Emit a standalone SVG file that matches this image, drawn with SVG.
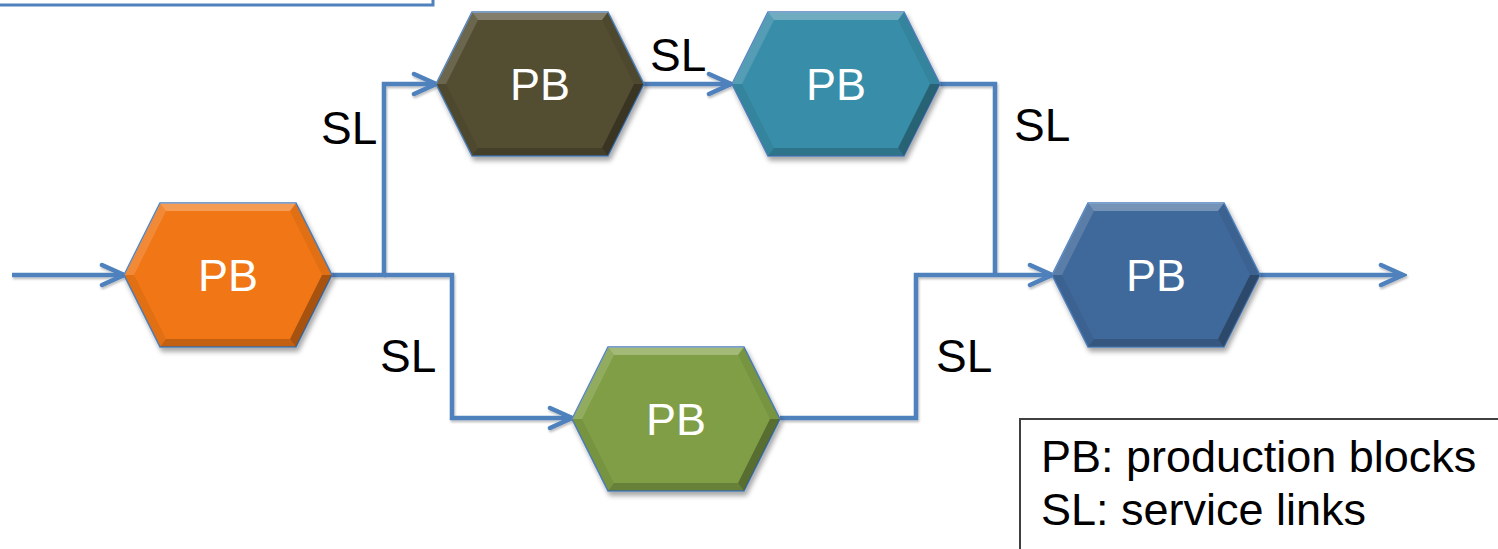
<svg xmlns="http://www.w3.org/2000/svg" xmlns:xlink="http://www.w3.org/1999/xlink" width="1498" height="549" viewBox="0 0 1498 549">
  <style>
    .conn { fill: none; stroke: #4F81BD; stroke-width: 4.5; stroke-linejoin: miter; }
    .lbl { font-family: "Liberation Sans", Arial, sans-serif; font-size: 46px; fill: #000000; }
    .pb { font-family: "Liberation Sans", Arial, sans-serif; font-size: 45px; fill: #FFFFFF; text-anchor: middle; }
    .leg { font-family: "Liberation Sans", Arial, sans-serif; font-size: 45px; fill: #000000; }
    .hl1 { fill: #FFFFFF; fill-opacity: 0.28; }
    .hl2 { fill: #FFFFFF; fill-opacity: 0.14; }
    .sh1 { fill: #000000; fill-opacity: 0.30; }
    .sh2 { fill: #000000; fill-opacity: 0.18; }
    .sh3 { fill: #000000; fill-opacity: 0.06; }
  </style>
  <defs>
    <filter id="shadow" x="-20%" y="-20%" width="140%" height="150%">
      <feDropShadow dx="2" dy="4" stdDeviation="2.5" flood-color="#000000" flood-opacity="0.35"/>
    </filter>
    <filter id="lshadow" x="-5%" y="-5%" width="110%" height="110%">
      <feDropShadow dx="1" dy="2" stdDeviation="1.2" flood-color="#000000" flood-opacity="0.25"/>
    </filter>
    <marker id="arr" viewBox="-26 -14 30 28" markerWidth="30" markerHeight="28" refX="0" refY="0" orient="auto" markerUnits="userSpaceOnUse">
      <path d="M-22,-10 L0,0 L-22,10" fill="none" stroke="#4F81BD" stroke-width="4.5" stroke-linecap="round" stroke-linejoin="miter"/>
    </marker>
    <g id="bevel">
      <polygon class="hl1" points="-68,-72 68,-72 62,-64 -62,-64"/>
      <polygon class="hl2" points="-104,0 -68,-72 -62,-64 -94,0"/>
      <polygon class="sh3" points="68,-72 104,0 94,0 62,-64"/>
      <polygon class="sh1" points="104,0 68,72 62,64 94,0"/>
      <polygon class="sh2" points="68,72 -68,72 -62,64 62,64"/>
      <polygon class="sh3" points="-68,72 -104,0 -94,0 -62,64"/>
    </g>
  </defs>

  <rect width="1498" height="549" fill="#FFFFFF"/>

  <g id="topbox">
    <rect x="-10" y="-10" width="443" height="15" fill="none" stroke="#4F81BD" stroke-width="3"/>
  </g>

  <g id="connectors" filter="url(#lshadow)">
    <path class="conn" d="M12,275 H124" marker-end="url(#arr)"/>
    <path class="conn" d="M332,275 H384 V84 H436" marker-end="url(#arr)"/>
    <path class="conn" d="M384,275 H452 V418 H572" marker-end="url(#arr)"/>
    <path class="conn" d="M643,84 H731" marker-end="url(#arr)"/>
    <path class="conn" d="M940,84 H995 V275"/>
    <path class="conn" d="M780,418 H916 V275 H1052" marker-end="url(#arr)"/>
    <path class="conn" d="M1260,275 H1403" marker-end="url(#arr)"/>
  </g>

  <g id="pb-orange" transform="translate(228,275)">
    <polygon points="-104,0 -68,-72 68,-72 104,0 68,72 -68,72" fill="#F07614" stroke="#4F81BD" stroke-width="1.5" filter="url(#shadow)"/>
    <use xlink:href="#bevel"/>
    <text class="pb" x="0" y="16">PB</text>
  </g>

  <g id="pb-olive" transform="translate(540,84)">
    <polygon points="-104,0 -68,-72 68,-72 104,0 68,72 -68,72" fill="#524E32" stroke="#4F81BD" stroke-width="1.5" filter="url(#shadow)"/>
    <use xlink:href="#bevel"/>
    <text class="pb" x="0" y="16">PB</text>
  </g>

  <g id="pb-teal" transform="translate(836,84)">
    <polygon points="-104,0 -68,-72 68,-72 104,0 68,72 -68,72" fill="#388DA8" stroke="#4F81BD" stroke-width="1.5" filter="url(#shadow)"/>
    <use xlink:href="#bevel"/>
    <text class="pb" x="0" y="16">PB</text>
  </g>

  <g id="pb-green" transform="translate(676,419)">
    <polygon points="-104,0 -68,-72 68,-72 104,0 68,72 -68,72" fill="#7F9E45" stroke="#4F81BD" stroke-width="1.5" filter="url(#shadow)"/>
    <use xlink:href="#bevel"/>
    <text class="pb" x="0" y="16">PB</text>
  </g>

  <g id="pb-blue" transform="translate(1156,275)">
    <polygon points="-104,0 -68,-72 68,-72 104,0 68,72 -68,72" fill="#3F699B" stroke="#4F81BD" stroke-width="1.5" filter="url(#shadow)"/>
    <use xlink:href="#bevel"/>
    <text class="pb" x="0" y="16">PB</text>
  </g>

  <g id="labels">
    <text class="lbl" x="321" y="144">SL</text>
    <text class="lbl" x="650" y="71">SL</text>
    <text class="lbl" x="1014" y="141">SL</text>
    <text class="lbl" x="380" y="372">SL</text>
    <text class="lbl" x="936" y="372">SL</text>
  </g>

  <g id="legend">
    <rect x="1020" y="419" width="500" height="200" fill="#FFFFFF" stroke="#404040" stroke-width="2"/>
    <text class="leg" x="1041" y="472">PB: production blocks</text>
    <text class="leg" x="1041" y="525">SL: service links</text>
  </g>
</svg>
